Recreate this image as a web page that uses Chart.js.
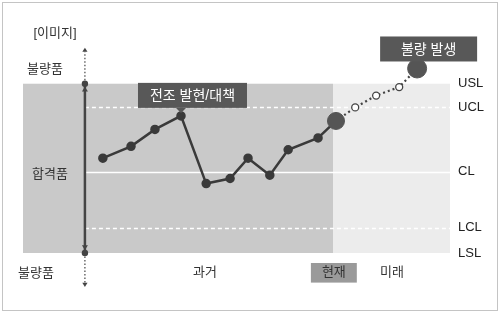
<!DOCTYPE html>
<html>
<head>
<meta charset="utf-8">
<script src="https://cdn.jsdelivr.net/npm/chart.js@4/dist/chart.umd.min.js"></script>
<style>
html, body { margin: 0; padding: 0; background: #fff; }
</style>
</head>
<body>
<canvas id="spc" width="500" height="313"></canvas>
<script>
// control limits, value scale LSL = 0 .. USL = 100
var limitNames = ['LSL', 'LCL', 'CL', 'UCL', 'USL'];
var limitValues = [0, 15, 48, 86, 100];

// past measurements (x = time)
var pastX = [18.7, 25.3, 30.9, 37.0, 42.9, 48.5, 52.7, 57.8, 62.1, 69.1, 73.3];
var pastY = [56, 63, 73, 81, 41, 44, 56, 46, 61, 68, 78];

// forecast from now on
var futureX = [73.3, 77.8, 82.7, 88.1, 92.3];
var futureY = [78, 86, 93, 98, 109];

// time periods along the bottom
var periodNames = ['과거', '현재', '미래'];
var periodX = [42.6, 72.8, 86.4];
var nowX = 72.6;    // past | future boundary
var arrowX = 14.5;  // the pass / fail arrow

var KR = "'Liberation Sans', 'Noto Sans CJK KR', sans-serif";

function pts(xs, ys) {
    return xs.map(function (x, i) { return { x: x, y: ys[i] }; });
}

function tag(c, text, cx, bottom, w, h) {
    c.fillStyle = '#585858';
    c.fillRect(cx - w / 2, bottom - h, w, h);
    c.fillStyle = '#fff';
    c.font = '14px ' + KR;
    c.textAlign = 'center';
    c.textBaseline = 'middle';
    c.fillText(text, cx, bottom - h / 2 + 1);
}

function head(c, x, y, dir, s) {
    // small filled arrow head, dir -1 = up, 1 = down
    c.beginPath();
    c.moveTo(x, y);
    c.lineTo(x - s, y - dir * s * 1.6);
    c.lineTo(x + s, y - dir * s * 1.6);
    c.closePath();
    c.fill();
}

var decor = {
    id: 'decor',
    beforeDraw: function (chart) {
        var c = chart.ctx, a = chart.chartArea;
        var xs = chart.scales.x, ys = chart.scales.y;
        var xb = xs.getPixelForValue(nowX);
        var xa = xs.getPixelForValue(arrowX);
        var top = ys.getPixelForValue(100), bot = ys.getPixelForValue(0);
        c.save();
        c.fillStyle = '#c9c9c9';
        c.fillRect(a.left, top, xb - a.left, bot - top);
        c.fillStyle = '#ececec';
        c.fillRect(xb, top, a.right - xb, bot - top);

        // UCL / CL / LCL guide lines
        c.strokeStyle = '#fff';
        c.lineWidth = 1.5;
        [1, 2, 3].forEach(function (k) {
            var y = Math.round(ys.getPixelForValue(limitValues[k])) + 0.5;
            c.setLineDash(k === 2 ? [] : [4, 3]);
            c.beginPath();
            c.moveTo(xa, y);
            c.lineTo(a.right, y);
            c.stroke();
        });
        c.restore();
    },
    afterDraw: function (chart) {
        var c = chart.ctx, a = chart.chartArea;
        var xs = chart.scales.x, ys = chart.scales.y;
        var xa = xs.getPixelForValue(arrowX);
        var top = ys.getPixelForValue(100), bot = ys.getPixelForValue(0);
        c.save();

        // frame
        c.strokeStyle = '#c4c4c4';
        c.lineWidth = 1;
        c.strokeRect(2.5, 2.5, 495, 308);

        // pass / fail arrow
        c.strokeStyle = '#444';
        c.fillStyle = '#444';
        c.lineWidth = 2.5;
        c.beginPath();
        c.moveTo(xa, top);
        c.lineTo(xa, bot);
        c.stroke();
        c.lineWidth = 1.2;
        c.setLineDash([1.5, 2]);
        c.beginPath();
        c.moveTo(xa, top);
        c.lineTo(xa, top - 32);
        c.moveTo(xa, bot);
        c.lineTo(xa, bot + 30);
        c.stroke();
        c.setLineDash([]);
        [top, bot].forEach(function (y) {
            c.beginPath();
            c.arc(xa, y, 3.2, 0, Math.PI * 2);
            c.fill();
        });
        head(c, xa, top + 3, -1, 3);
        head(c, xa, bot - 3, 1, 3);
        head(c, xa, top - 36, -1, 2.6);
        head(c, xa, bot + 34, 1, 2.6);

        // left side labels
        c.fillStyle = '#333';
        c.font = '13px ' + KR;
        c.textAlign = 'center';
        c.textBaseline = 'middle';
        c.fillText('[이미지]', a.left + 32, 33);
        c.fillText('불량품', a.left + 22, top - 14);
        c.fillText('합격품', a.left + 27, ys.getPixelForValue(limitValues[2]) + 3);
        c.fillText('불량품', a.left + 13, bot + 20);

        // warning tag at the peak
        var px = xs.getPixelForValue(pastX[3]), py = ys.getPixelForValue(pastY[3]);
        tag(c, '전조 발현/대책', px + 11.5, py - 8, 109, 25);
        c.fillStyle = '#585858';
        c.beginPath();
        c.moveTo(px - 5, py - 8);
        c.lineTo(px + 5, py - 8);
        c.lineTo(px, py - 3);
        c.closePath();
        c.fill();

        // defect tag
        var n = futureX.length - 1;
        var fx = xs.getPixelForValue(futureX[n]), fy = ys.getPixelForValue(futureY[n]);
        tag(c, '불량 발생', fx + 11.5, fy - 7, 97, 25);
        c.restore();
    }
};

var ctx = document.getElementById('spc').getContext('2d');
var spcChart = new Chart(ctx, {
    type: 'line',
    data: {
        datasets: [
            {
                // now
                data: pts([pastX[pastX.length - 1]], [pastY[pastY.length - 1]]),
                showLine: false,
                pointRadius: 8.5,
                pointBackgroundColor: '#555',
                pointBorderColor: '#555',
                clip: false,
                order: 0
            },
            {
                // defect
                data: pts([futureX[futureX.length - 1]], [futureY[futureY.length - 1]]),
                showLine: false,
                pointRadius: 9.5,
                pointBackgroundColor: '#555',
                pointBorderColor: '#555',
                clip: false,
                order: 0
            },
            {
                data: pts(pastX, pastY),
                borderColor: '#3a3a3a',
                borderWidth: 2.5,
                tension: 0,
                pointRadius: pastX.map(function (v, i) { return i === pastX.length - 1 ? 0 : 3.5; }),
                pointBackgroundColor: '#3a3a3a',
                pointBorderColor: '#3a3a3a',
                clip: false,
                order: 1
            },
            {
                data: pts(futureX, futureY),
                borderColor: '#444',
                borderWidth: 2.2,
                borderDash: [2, 3],
                tension: 0,
                pointRadius: futureX.map(function (v, i) { return (i === 0 || i === futureX.length - 1) ? 0 : 3.5; }),
                pointBackgroundColor: '#fff',
                pointBorderColor: '#444',
                pointBorderWidth: 1.3,
                clip: false,
                order: 1
            }
        ]
    },
    options: {
        responsive: false,
        animation: false,
        events: [],
        layout: { padding: { left: 23, top: 16, right: 0, bottom: 0 } },
        scales: {
            x: {
                type: 'linear',
                position: 'bottom',
                min: 0,
                max: 100,
                grid: { display: false, drawTicks: false },
                border: { display: false },
                afterBuildTicks: function (s) { s.ticks = periodX.map(function (v) { return { value: v }; }); },
                afterFit: function (s) { s.height = 60; },
                ticks: {
                    autoSkip: false,
                    maxRotation: 0,
                    padding: 12,
                    color: '#333',
                    font: { size: 13, family: KR },
                    callback: function (v, i) { return periodNames[i]; },
                    showLabelBackdrop: true,
                    backdropColor: function (c) { return c.index === 1 ? '#9a9a9a' : 'rgba(0,0,0,0)'; },
                    backdropPadding: { x: 11, y: 2 }
                }
            },
            y: {
                type: 'linear',
                position: 'right',
                min: 0,
                max: 140,
                grid: { display: false, drawTicks: false },
                border: { display: false },
                afterBuildTicks: function (s) { s.ticks = limitValues.map(function (v) { return { value: v }; }); },
                afterFit: function (s) { s.width = 50; },
                ticks: {
                    autoSkip: false,
                    padding: 8,
                    color: '#222',
                    font: { size: 13, family: KR },
                    callback: function (v, i) { return limitNames[i]; }
                }
            }
        },
        plugins: {
            legend: { display: false },
            tooltip: { enabled: false }
        }
    },
    plugins: [decor]
});
</script>
</body>
</html>
